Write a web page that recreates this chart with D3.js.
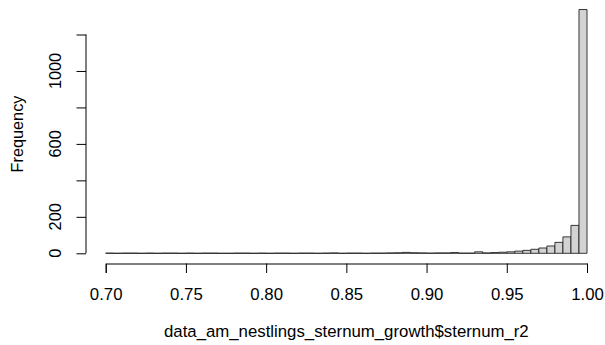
<!DOCTYPE html>
<html>
<head>
<meta charset="utf-8">
<script src="https://cdn.jsdelivr.net/npm/d3@7"></script>
<style>
  html, body { margin: 0; padding: 0; background: #fff; }
  svg { display: block; }
  text { font-family: "Liberation Sans", Arial, Helvetica, sans-serif; fill: #000; }
</style>
</head>
<body>
<svg id="chart" width="605" height="345"></svg>
<script>
// Histogram of sternum growth r² values, bin width 0.005 from 0.70 to 1.00
const binStart = 0.70;
const binWidth = 0.005;
const counts = [
  1, 0, 1, 1, 0, 1, 0, 1, 1, 0,
  1, 0, 1, 1, 0, 0, 1, 1, 0, 1,
  0, 1, 1, 0, 1, 1, 0, 1, 2, 0,
  1, 1, 0, 1, 1, 2, 3, 5, 3, 2,
  1, 2, 2, 4, 1, 1, 8, 2, 4, 6,
  8, 12, 16, 22, 29, 40, 60, 90, 153, 1337
];
const xTicks = [0.70, 0.75, 0.80, 0.85, 0.90, 0.95, 1.00];
const yTicks = [0, 200, 400, 600, 800, 1000, 1200];
const yTickLabels = [0, 200, 600, 1000];
const xTitle = "data_am_nestlings_sternum_growth$sternum_r2";
const yTitle = "Frequency";

const bins = counts.map((c, i) => ({
  x0: binStart + i * binWidth,
  x1: binStart + (i + 1) * binWidth,
  count: c
}));

const svg = d3.select("#chart");
const fontH = 16.8;   // horizontal text size
const fontV = 16.3;   // rotated text size

const x = d3.scaleLinear().domain([0.70, 1.00]).range([105.7, 587]);
const y = d3.scaleLinear().domain([0, 1200]).range([253.3, 34.5]);

// bars drawn as closed paths so empty bins still show their outline
svg.append("g")
  .selectAll("path")
  .data(bins)
  .join("path")
  .attr("d", d => {
    const p = d3.path();
    p.moveTo(x(d.x0), y(0));
    p.lineTo(x(d.x0), y(d.count));
    p.lineTo(x(d.x1), y(d.count));
    p.lineTo(x(d.x1), y(0));
    p.closePath();
    return p.toString();
  })
  .attr("fill", "#d3d3d3")
  .attr("stroke", "#222")
  .attr("stroke-width", 0.9);

// x axis
const xAxis = svg.append("g")
  .attr("transform", "translate(0,263.5)")
  .call(d3.axisBottom(x).tickValues(xTicks).tickFormat(d3.format(".2f"))
    .tickSize(9.5).tickPadding(14.5));
xAxis.attr("font-size", null).attr("font-family", null);
xAxis.select(".domain").attr("stroke", "#000").attr("stroke-width", 1);
xAxis.selectAll(".tick line").attr("stroke", "#000");
xAxis.selectAll("text").attr("font-size", fontH).attr("dy", "0.75em");

// y axis
const yAxis = svg.append("g")
  .attr("transform", "translate(86,0)")
  .call(d3.axisLeft(y).tickValues(yTicks).tickSize(9.5).tickFormat(""));
yAxis.select(".domain").attr("d", `M0,${y(0)}V${y(1200)}`).attr("stroke", "#000");
yAxis.selectAll(".tick line").attr("stroke", "#000");

svg.append("g")
  .selectAll("text")
  .data(yTickLabels)
  .join("text")
  .attr("transform", d => `translate(61,${y(d)}) rotate(-90)`)
  .attr("text-anchor", "middle")
  .attr("font-size", fontV)
  .text(d => d);

// axis titles
svg.append("text")
  .attr("x", (x(0.70) + x(1.00)) / 2)
  .attr("y", 337)
  .attr("text-anchor", "middle")
  .attr("font-size", fontH)
  .text(xTitle);

svg.append("text")
  .attr("transform", `translate(23,134) rotate(-90)`)
  .attr("text-anchor", "middle")
  .attr("font-size", fontV)
  .text(yTitle);
</script>
</body>
</html>
